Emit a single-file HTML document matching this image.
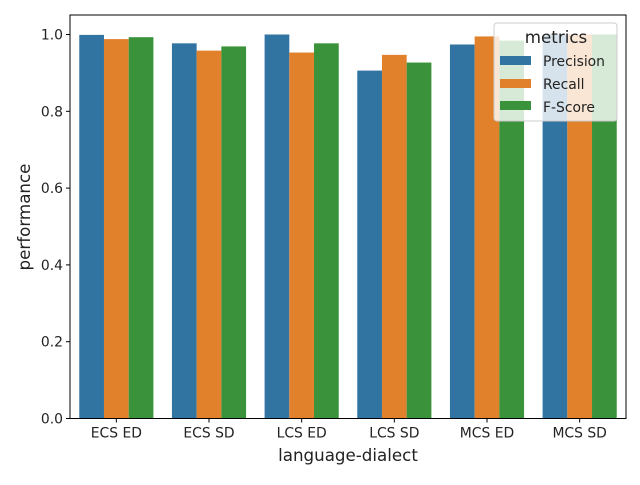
<!DOCTYPE html>
<html><head><meta charset="utf-8"><style>
body{margin:0;background:#fff}
svg text{font-family:"DejaVu Sans","Liberation Sans",sans-serif;fill:#222}
</style></head><body>
<svg id="chart" width="640" height="480" xmlns="http://www.w3.org/2000/svg"></svg>
<script>
const categories=["ECS ED","ECS SD","LCS ED","LCS SD","MCS ED","MCS SD"];
const seriesNames=["Precision","Recall","F-Score"];
const precision=[0.999,0.977,1.0,0.906,0.974,1.0];
const recall=[0.988,0.958,0.953,0.947,0.995,1.0];
const fscore=[0.993,0.969,0.977,0.927,0.984,1.0];
const yTicks=[0,0.2,0.4,0.6,0.8,1.0];
const yTickLabels=["0.0","0.2","0.4","0.6","0.8","1.0"];
const colors=["#3274a1","#e1812c","#3a923a"];
const series=[precision,recall,fscore];
const L=70,R=626,T=15,B=418.5;
const svg=document.getElementById('chart');
const NS="http://www.w3.org/2000/svg";
function y(v){return B-v*384;}
const bw=(R-L)/categories.length;
function x(i){return L+bw*i;}
function mk(t,a){const e=document.createElementNS(NS,t);for(const k in a)e.setAttribute(k,a[k]);svg.appendChild(e);return e;}
series.forEach((s,si)=>{s.forEach((v,i)=>{
 const r=mk('rect',{x:x(i)+bw*0.1+si*bw*0.8/3,y:y(v),width:bw*0.8/3,height:B-y(v),fill:colors[si]});
 
 
});});
yTicks.forEach((v,i)=>{
 const l=mk('line',{x1:L-4,x2:L,y1:y(v),y2:y(v),stroke:'#000'});
 
 
 const t=mk('text',{x:L-7,y:y(v)+5,'text-anchor':'end','font-size':13.9});
 t.textContent=yTickLabels[i];
 
 
});
categories.forEach((c,i)=>{
 const cx=x(i)+bw/2;
 const l=mk('line',{x1:cx,x2:cx,y1:B,y2:B+4,stroke:'#000'});
 
 
 const t=mk('text',{x:cx,y:B+19,'text-anchor':'middle','font-size':13.9});
 t.textContent=c;
 
 
});
const fr=mk('rect',{x:L,y:T,width:R-L,height:B-T,fill:'none',stroke:'#000','stroke-width':1});


</script>
<svg width="640" height="480" style="position:absolute;left:0;top:0" xmlns="http://www.w3.org/2000/svg">
<text x="348" y="461" text-anchor="middle" font-size="16.7">language-dialect</text>
<text transform="translate(30,217) rotate(-90)" text-anchor="middle" font-size="16.7">performance</text>
<g>
<rect x="494" y="23" width="123" height="98" rx="3" fill="#fff" fill-opacity="0.8" stroke="#ccc"/>
<text x="556" y="43" text-anchor="middle" font-size="16.7">metrics</text>
<rect x="500" y="56" width="31" height="9" fill="#3274a1"/>
<text x="543" y="66" font-size="13.9">Precision</text>
<rect x="500" y="79" width="31" height="9" fill="#e1812c"/>
<text x="543" y="89" font-size="13.9">Recall</text>
<rect x="500" y="101" width="31" height="9" fill="#3a923a"/>
<text x="543" y="112" font-size="13.9">F-Score</text>
</g>
</svg>
</body></html>
